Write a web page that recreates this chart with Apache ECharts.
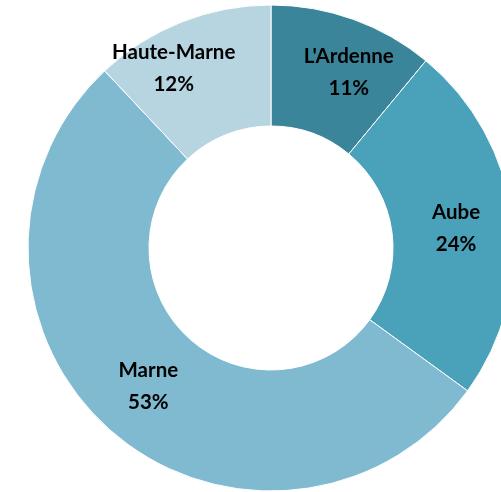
<!DOCTYPE html>
<html><head><meta charset="utf-8">
<script src="https://cdn.jsdelivr.net/npm/echarts@6/dist/echarts.min.js"></script>
<style>html,body{margin:0;padding:0;background:#fff}#c{width:501px;height:492px}</style>
</head><body><div id="c"></div>
<script>
const categories = ["L'Ardenne", "Aube", "Marne", "Haute-Marne"];
const values = [11, 24, 53, 12];
const colors = ["#3a8599", "#4aa2ba", "#7fbad0", "#b6d5e0"];
const labelShift = [[15, -1], [1, 4], [0, -1], [-29, -7]];

const chart = echarts.init(document.getElementById('c'), null, {renderer: 'canvas'});
chart.setOption({
  animation: false,
  series: [{
    type: 'pie',
    center: [271, 248],
    radius: [122, 243],
    startAngle: 90,
    clockwise: true,
    avoidLabelOverlap: false,
    data: categories.map((n, i) => ({name: n, value: values[i], itemStyle: {color: colors[i]}})),
    itemStyle: {borderColor: '#fff', borderWidth: 1},
    label: {
      show: true,
      position: 'inside',
      formatter: p => p.name + '\n' + p.value + '%',
      fontFamily: 'Lato',
      fontWeight: 'bold',
      fontSize: 20.5,
      lineHeight: 32,
      color: '#000'
    },
    labelLine: {show: false},
    labelLayout: function (p) {
      const s = labelShift[p.dataIndex];
      return {dx: s[0], dy: s[1]};
    }
  }]
});
</script></body></html>
